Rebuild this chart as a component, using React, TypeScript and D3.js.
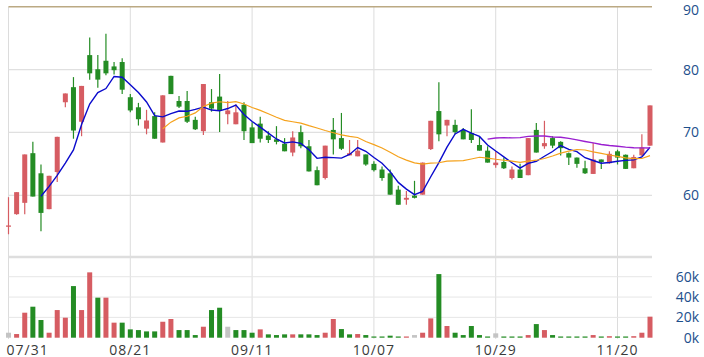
import React from "react";
import * as d3 from "d3";

const dates = [
  "07/31",
  "08/01","08/02","08/05","08/06","08/07","08/08","08/09","08/12","08/13","08/14","08/15","08/16","08/19","08/20","08/21",
  "08/22","08/23","08/26","08/27","08/28","08/29","08/30","09/02","09/03","09/04","09/05","09/06","09/09","09/10","09/11",
  "09/12","09/13","09/16","09/18","09/19","09/20","09/23","09/24","09/25","09/26","09/27","09/30","10/01","10/04","10/07",
  "10/08","10/09","10/11","10/14","10/15","10/16","10/17","10/18","10/21","10/22","10/23","10/24","10/25","10/28","10/29",
  "10/30","11/01","11/04","11/05","11/06","11/07","11/08","11/11","11/12","11/13","11/14","11/15","11/18","11/19","11/20",
  "11/21","11/22","11/25","11/26",
];

const opens = [
  55.0, 57.0, 58.8, 66.7, 63.5, 57.8, 63.7, 74.8, 77.2, 71.7,
  82.3, 80.05, 81.4, 80.5, 81.2, 75.6, 74.0, 70.6, 72.6, 68.4,
  79.0, 75.0, 75.0, 72.0, 70.2, 74.8, 75.7, 72.9, 71.3, 74.4,
  70.8, 71.4, 69.5, 68.9, 68.2, 66.8, 70.05, 67.8, 64.0, 62.75,
  70.4, 69.1, 66.35, 66.2, 66.5, 65.0, 64.1, 63.5, 60.9, 59.3,
  59.95, 60.1, 67.35, 73.4, 71.1, 71.2, 70.4, 69.9, 68.0, 67.1,
  64.8, 65.3, 62.75, 64.1, 63.2, 70.4, 67.8, 69.1, 68.5, 66.7,
  66.0, 64.3, 63.4, 65.7, 65.1, 67.0, 66.45, 64.3, 66.35, 67.9,
];
const highs = [
  59.7, 60.5, 66.5, 68.5, 64.9, 63.1, 69.3, 76.2, 78.8, 77.4,
  85.1, 82.3, 85.7, 81.2, 81.8, 76.1, 74.7, 73.6, 73.2, 75.9,
  79.0, 75.8, 76.6, 72.5, 77.7, 76.9, 79.3, 75.0, 74.5, 74.8,
  71.6, 72.5, 70.2, 71.0, 69.1, 70.2, 71.1, 68.8, 64.6, 67.9,
  72.3, 73.1, 68.8, 68.8, 66.5, 65.4, 64.6, 64.1, 61.5, 60.7,
  62.3, 65.2, 71.85, 78.0, 72.0, 72.0, 70.7, 73.7, 69.4, 67.8,
  67.0, 66.0, 64.6, 65.0, 69.1, 71.5, 71.85, 69.4, 68.6, 66.8,
  66.0, 65.5, 68.3, 65.7, 67.0, 67.25, 66.5, 66.45, 69.7, 74.3,
];
const lows = [
  53.8, 56.9, 57.0, 59.8, 54.3, 57.8, 62.1, 74.0, 69.0, 69.4,
  78.4, 77.1, 79.1, 79.2, 76.1, 73.2, 71.1, 69.7, 69.0, 68.4,
  76.1, 73.9, 71.5, 70.4, 69.6, 73.3, 70.05, 71.3, 71.3, 68.8,
  68.3, 68.4, 68.3, 68.1, 67.0, 66.2, 67.5, 63.8, 61.6, 62.5,
  66.5, 67.2, 66.35, 66.2, 64.7, 63.8, 62.3, 60.1, 58.5, 58.5,
  59.5, 60.1, 67.2, 68.6, 69.4, 69.7, 68.9, 68.3, 67.1, 65.2,
  64.4, 64.2, 62.5, 62.75, 63.2, 66.8, 67.4, 67.5, 66.35, 64.8,
  64.4, 63.4, 63.4, 64.2, 65.0, 64.9, 64.2, 64.3, 66.2, 67.9,
];
const closes = [
  55.2, 60.5, 66.5, 59.8, 57.2, 63.1, 69.3, 76.2, 70.3, 77.4,
  79.4, 78.4, 79.4, 79.9, 76.8, 73.5, 72.1, 71.9, 69.0, 75.9,
  76.1, 74.1, 71.7, 70.5, 77.7, 73.8, 73.5, 73.5, 73.2, 70.2,
  68.3, 69.0, 68.8, 68.5, 67.0, 69.2, 67.8, 63.8, 61.6, 67.9,
  68.9, 67.4, 66.7, 67.1, 64.9, 64.0, 62.75, 60.1, 58.5, 59.6,
  59.6, 65.2, 71.85, 69.7, 72.0, 70.05, 68.9, 68.8, 67.1, 65.2,
  65.2, 64.3, 64.1, 62.75, 69.1, 66.8, 68.3, 67.9, 67.5, 66.0,
  65.0, 63.5, 65.7, 65.3, 66.6, 66.0, 64.2, 66.1, 67.6, 74.3,
];
const volumes = [
  4.9, 3.6, 24.6, 30.5, 17.4, 4.9, 27.2, 19.7, 50.8, 27.2,
  64.3, 39.4, 39.4, 14.8, 14.8, 8.2, 7.5, 6.2, 6.2, 15.7,
  18.4, 7.5, 7.5, 2.6, 10.8, 27.2, 29.5, 10.8, 7.5, 7.5,
  4.9, 8.2, 3.3, 2.6, 3.3, 3.3, 3.3, 3.3, 2.6, 4.9,
  18.4, 8.5, 3.3, 3.6, 2.6, 1.2, 1.2, 2.0, 1.2, 1.2,
  2.6, 4.9, 19.0, 62.6, 11.5, 4.9, 2.6, 11.5, 2.6, 1.2,
  4.3, 1.2, 1.2, 1.2, 2.6, 13.4, 7.5, 2.6, 1.2, 1.2,
  1.2, 1.2, 2.6, 1.2, 1.5, 1.2, 1.2, 1.5, 4.9, 20.7,
];

const priceTicks = [60, 70, 80, 90];
const volumeTicks = [0, 20, 40, 60];
const dateTicks = ["07/31", "08/21", "09/11", "10/07", "10/29", "11/20"];

const RED = "#d65c62";
const GREEN = "#248c24";
const GREY = "#c4c4c4";

function sma(values: number[], n: number): (number | null)[] {
  return values.map((_, i) => (i < n - 1 ? null : d3.mean(values.slice(i - n + 1, i + 1)) as number));
}

export default function App() {
  const W = 704;
  const H = 357;
  const x = d3.scalePoint<string>().domain(dates).range([8.5, 650]);
  const yP = d3.scaleLinear().domain([60, 90]).range([195.3, 6.7]);
  const yV = d3.scaleLinear().domain([0, 80]).range([337.7, 256.4]);
  const plotL = 8.5;
  const plotR = 652;
  const bodyW = 5;

  const ma = [
    { n: 5, color: "#0a0acc", w: 1.4 },
    { n: 20, color: "#f5a21c", w: 1.2 },
    { n: 60, color: "#9a1fd0", w: 1.4 },
  ];

  const lineGen = d3
    .line<{ d: string; v: number | null }>()
    .defined((p) => p.v != null)
    .x((p) => x(p.d) as number)
    .y((p) => yP(p.v as number));

  const font = "'Open Sans', 'DejaVu Sans', sans-serif";

  return (
    <svg
      width={W}
      height={H}
      style={{ position: "absolute", left: 0, top: 0, background: "#fff" }}
    >
      {dateTicks.map((d) => (
        <line
          key={"vg" + d}
          x1={x(d)}
          x2={x(d)}
          y1={6.7}
          y2={339}
          stroke="#dcdcdc"
          strokeWidth={1}
        />
      ))}
      {priceTicks
        .filter((t) => t < 90)
        .map((t) => (
          <line
            key={"pg" + t}
            x1={plotL}
            x2={plotR}
            y1={yP(t)}
            y2={yP(t)}
            stroke="#e0e0e0"
            strokeWidth={1.2}
          />
        ))}
      <line x1={plotL} x2={plotR} y1={yP(90)} y2={yP(90)} stroke="#bba983" strokeWidth={1.4} />
      <line x1={plotL} x2={plotR} y1={257} y2={257} stroke="#dedede" strokeWidth={2.5} />
      {volumeTicks
        .filter((t) => t > 0)
        .map((t) => (
          <line
            key={"vgl" + t}
            x1={plotL}
            x2={plotR}
            y1={yV(t)}
            y2={yV(t)}
            stroke="#e6e6e6"
            strokeWidth={1}
          />
        ))}

      {dates.map((d, i) => {
        const o = opens[i];
        const c = closes[i];
        const up = c >= o;
        const col = up ? RED : GREEN;
        const cx = x(d) as number;
        const top = yP(Math.max(o, c));
        const bot = yP(Math.min(o, c));
        return (
          <g key={"c" + i}>
            <line x1={cx} x2={cx} y1={yP(highs[i])} y2={yP(lows[i])} stroke={col} strokeWidth={1.2} />
            <rect x={cx - bodyW / 2} y={top} width={bodyW} height={Math.max(1.2, bot - top)} fill={col} />
          </g>
        );
      })}

      {ma.map((m) => {
        const vals = sma(closes, m.n);
        const pts = dates.map((d, i) => ({ d, v: vals[i] }));
        return (
          <path
            key={"ma" + m.n}
            d={lineGen(pts) || ""}
            fill="none"
            stroke={m.color}
            strokeWidth={m.w}
          />
        );
      })}

      {dates.map((d, i) => {
        const prev = i > 0 ? closes[i - 1] : null;
        const col =
          prev == null || closes[i] === prev ? GREY : closes[i] > prev ? RED : GREEN;
        const cx = x(d) as number;
        const y0 = yV(0);
        const y1 = yV(volumes[i]);
        return (
          <rect key={"v" + i} x={cx - bodyW / 2} y={y1} width={bodyW} height={y0 - y1} fill={col} />
        );
      })}

      {priceTicks.map((t) => (
        <text
          key={"pl" + t}
          x={699}
          y={Math.max(yP(t) + 5, 14.5)}
          textAnchor="end"
          fontFamily={font}
          fontSize={14}
          fill="#1d4f8c"
        >
          {t}
        </text>
      ))}
      {volumeTicks.map((t) => (
        <text
          key={"vl" + t}
          x={699}
          y={yV(t) + 5}
          textAnchor="end"
          fontFamily={font}
          fontSize={14}
          fill="#1d4f8c"
        >
          {t + "k"}
        </text>
      ))}
      {dateTicks.map((d, i) => (
        <text
          key={"dl" + d}
          x={i === 0 ? 6.5 : (x(d) as number)}
          y={354.5}
          textAnchor={i === 0 ? "start" : "middle"}
          fontFamily={font}
          fontSize={14}
          letterSpacing={1}
          fill="#3a3a3a"
        >
          {d}
        </text>
      ))}
    </svg>
  );
}
